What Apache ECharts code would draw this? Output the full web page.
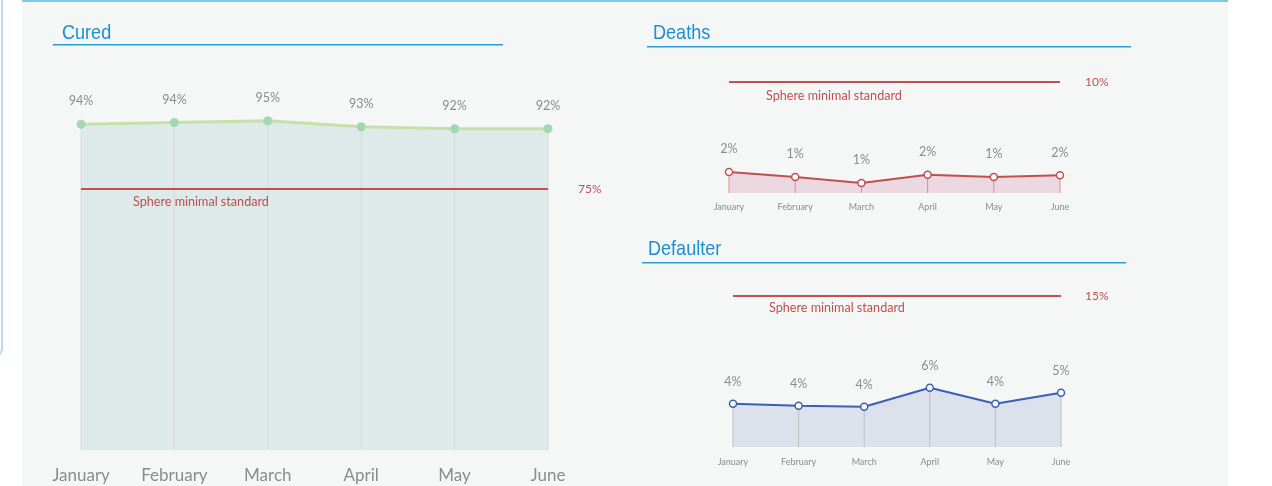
<!DOCTYPE html>
<html>
<head>
<meta charset="utf-8">
<script src="https://cdn.jsdelivr.net/npm/echarts@6/dist/echarts.min.js"></script>
<style>
  html, body { margin: 0; padding: 0; background: #ffffff; }
  #main { width: 1272px; height: 486px; }
</style>
</head>
<body>
<div id="main"></div>
<script>
var months = ['January', 'February', 'March', 'April', 'May', 'June'];

// values in %
var cured = [93.6, 94.1, 94.6, 92.9, 92.3, 92.3];
var deaths = [1.9, 1.45, 0.9, 1.65, 1.45, 1.6];
var defaulter = [4.3, 4.1, 4.0, 5.9, 4.3, 5.4];

// sphere minimal standards
var curedStd = 75;
var deathsStd = 10;
var defaulterStd = 15;

var font = 'Lato, "Open Sans", sans-serif';
var red = '#c0504d';

function stdLine(val, padLeft, endGap, below) {
    return {
        silent: true,
        symbol: 'none',
        lineStyle: { color: red, width: 2, type: 'solid' },
        data: [
            { yAxis: val, label: { show: true, position: 'end', distance: endGap, formatter: val + '%', color: red, fontSize: 12, fontFamily: font } },
            { yAxis: val, lineStyle: { color: 'rgba(0,0,0,0)', width: 0 }, label: { show: true, position: 'insideStartBottom', distance: below, formatter: 'Sphere minimal standard', color: red, fontSize: 12.6, fontFamily: font, padding: [0, 0, 0, padLeft] } }
        ]
    };
}

function xAxis(idx, size, margin) {
    return {
        type: 'category', gridIndex: idx, data: months, boundaryGap: false,
        axisLine: { show: false }, axisTick: { show: false }, splitLine: { show: false },
        axisLabel: { color: '#8c8c8c', fontSize: size, margin: margin, fontFamily: font }
    };
}

function yAxis(idx, max) {
    return { type: 'value', gridIndex: idx, min: 0, max: max, show: false, splitLine: { show: false } };
}

// filled area only, drawn under the drop lines
function areaSeries(idx, data, area) {
    return {
        type: 'line', xAxisIndex: idx, yAxisIndex: idx, data: data, z: 1, silent: true,
        symbol: 'none', lineStyle: { width: 0 },
        areaStyle: { color: area, opacity: 1 }
    };
}

function lineSeries(idx, data, color, sym, symFill, labelGap) {
    return {
        type: 'line', xAxisIndex: idx, yAxisIndex: idx, data: data, z: 3,
        symbol: 'circle', symbolSize: sym, showAllSymbol: true,
        lineStyle: { color: color, width: idx === 0 ? 3 : 2 },
        itemStyle: { color: symFill, borderColor: idx === 0 ? symFill : color, borderWidth: idx === 0 ? 0 : 1.5 },
        label: {
            show: true, position: 'top', distance: labelGap, color: '#8c8c8c', fontSize: 12.5, fontFamily: font,
            formatter: function (p) { return Math.round(p.value) + '%'; }
        }
    };
}

function dropSeries(idx, data, color) {
    return {
        type: 'bar', xAxisIndex: idx, yAxisIndex: idx, data: data, barWidth: 1, z: 2,
        itemStyle: { color: color }, silent: true
    };
}

var s0 = lineSeries(0, cured, '#c6e0a8', 9, '#a3d6b2', 12);
s0.markLine = stdLine(curedStd, 46, 30, 6);
var s1 = lineSeries(1, deaths, red, 7, '#ffffff', 12);
s1.markLine = stdLine(deathsStd, 30, 25, 7);
var s2 = lineSeries(2, defaulter, '#3b5fb3', 7, '#ffffff', 11);
s2.markLine = stdLine(defaulterStd, 31, 24, 5);

var blue = '#2a9bd6';
function titleText(x, y, txt) {
    return {
        type: 'text', x: x, y: y, scaleX: 0.86, z: 10,
        style: { text: txt, fill: '#1b8fd2', fontSize: 21, fontFamily: '"Liberation Sans", Arial, sans-serif', textVerticalAlign: 'top' }
    };
}

var option = {
    backgroundColor: '#ffffff',
    animation: false,
    graphic: [
        { type: 'rect', z: -10, shape: { x: 22, y: 0, width: 1206, height: 486 }, style: { fill: '#f5f7f7' } },
        { type: 'rect', z: -9, shape: { x: 22, y: 0, width: 1206, height: 2 }, style: { fill: '#7ccbec' } },
        { type: 'rect', z: -9, shape: { x: -20, y: -10, width: 22, height: 365, r: 6 }, style: { fill: '#ffffff', stroke: '#b9dbf3', lineWidth: 2 } },
        { type: 'rect', z: 10, shape: { x: 53, y: 44, width: 450, height: 1.5 }, style: { fill: blue } },
        { type: 'rect', z: 10, shape: { x: 647, y: 46, width: 484, height: 1.5 }, style: { fill: blue } },
        { type: 'rect', z: 10, shape: { x: 642, y: 262, width: 484, height: 1.5 }, style: { fill: blue } },
        titleText(62, 23, 'Cured'),
        titleText(653, 23, 'Deaths'),
        titleText(648, 239, 'Defaulter')
    ],
    grid: [
        { left: 81, top: 102, width: 467, height: 348 },
        { left: 729, top: 60, width: 331, height: 133 },
        { left: 733, top: 266, width: 328, height: 181 }
    ],
    xAxis: [xAxis(0, 17, 17), xAxis(1, 9, 10), xAxis(2, 9, 11)],
    yAxis: [yAxis(0, 100), yAxis(1, 12), yAxis(2, 18)],
    series: [
        areaSeries(0, cured, '#dee9e9'), dropSeries(0, cured, '#d6dada'), s0,
        areaSeries(1, deaths, '#ecd8e0'), dropSeries(1, deaths, '#dd8c9c'), s1,
        areaSeries(2, defaulter, '#dce1ec'), dropSeries(2, defaulter, '#bdbfc4'), s2
    ]
};

var myChart = echarts.init(document.getElementById('main'));
myChart.setOption(option);
</script>
</body>
</html>
